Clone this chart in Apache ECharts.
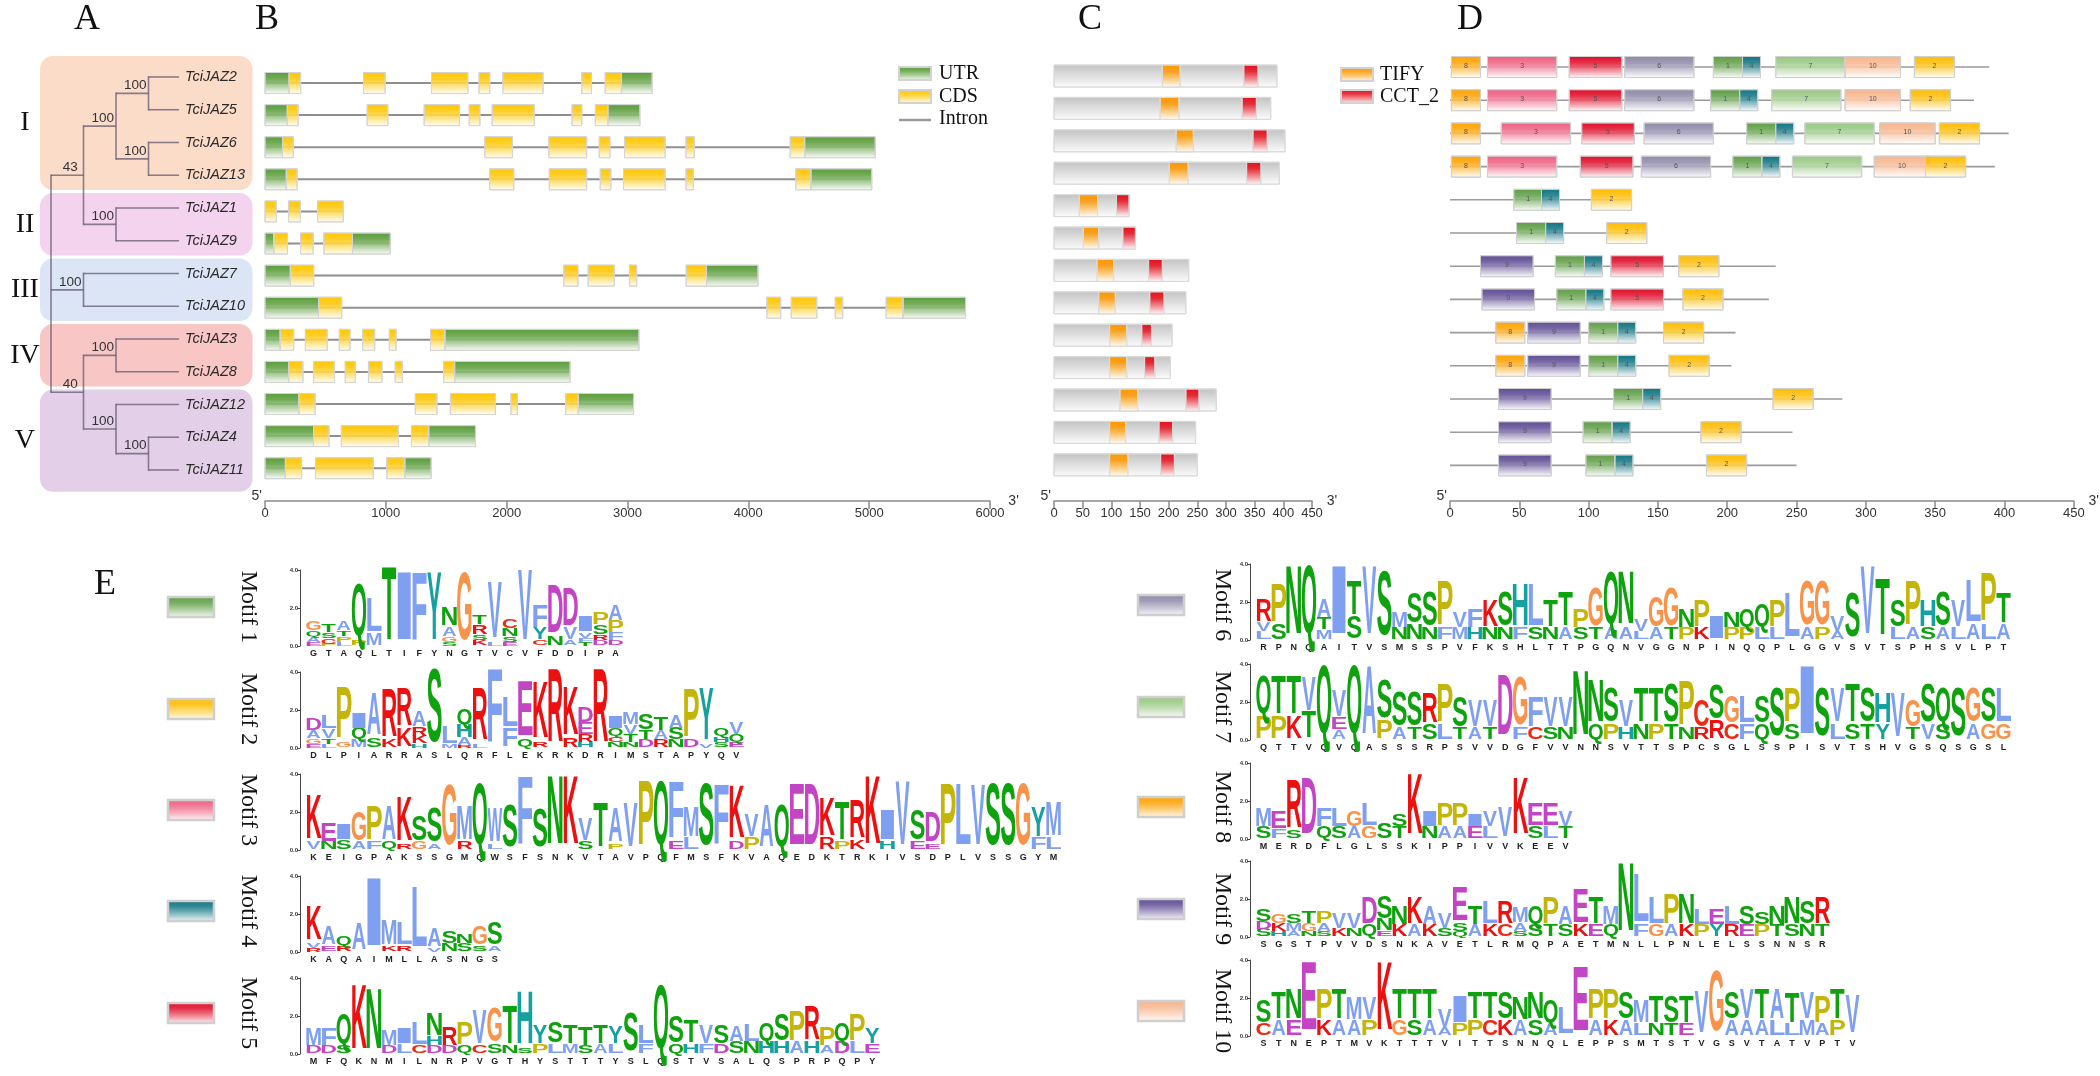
<!DOCTYPE html>
<html><head><meta charset="utf-8">
<script src="https://cdn.jsdelivr.net/npm/echarts@6/dist/echarts.min.js"></script>
<style>html,body{margin:0;padding:0;background:#fff}#c{width:2100px;height:1076px}</style>
</head><body><div id="c"></div>
<script>
// ---------------- DATA ----------------
const genes = ['TciJAZ2','TciJAZ5','TciJAZ6','TciJAZ13','TciJAZ1','TciJAZ9','TciJAZ7','TciJAZ10','TciJAZ3','TciJAZ8','TciJAZ12','TciJAZ4','TciJAZ11'];
// A: tree [id, parent, depth, bootstrap]
const treeNodes = [['root',null,0,''],['n43','root',1,'43'],['nI','n43',2,'100'],['n25','nI',3,'100'],['n613','nI',3,'100'],
  ['nII','n43',2,'100'],['nIII','root',1,'100'],['n40','root',1,'40'],['nIV','n40',2,'100'],['nV','n40',2,'100'],['n411','nV',3,'100']];
const leafParent = ['n25','n25','n613','n613','nII','nII','nIII','nIII','nIV','nIV','nV','n411','n411'];
const leafDepth = 3.94;
const clades = ['I','II','III','IV','V'];
const cladeRows = [[0,3],[4,5],[6,7],[8,9],[10,12]];
const cladeColors = ['#fbdcc9','#f4d3ee','#dbe5f6','#f8c6c4','#e4cfe8'];
// B: gene structure [type U=UTR C=CDS, start bp, end bp]
const geneSegments = [
 [['U',0,200],['C',200,295],['C',815,995],['C',1378,1679],['C',1771,1860],['C',1968,2301],['C',2622,2702],['C',2815,2950],['U',2950,3204]],
 [['U',0,185],['C',185,274],['C',845,1017],['C',1317,1610],['C',1690,1779],['C',1880,2229],['C',2541,2622],['C',2734,2839],['U',2839,3103]],
 [['U',0,145],['C',145,234],['C',1819,2048],['C',2349,2662],['C',2766,2855],['C',2975,3312],['C',3484,3553],['C',4346,4467],['U',4467,5050]],
 [['U',0,177],['C',177,266],['C',1859,2059],['C',2353,2662],['C',2774,2863],['C',2967,3312],['C',3484,3545],['C',4393,4519],['U',4519,5022]],
 [['C',0,94],['C',194,294],['C',435,648]],
 [['U',0,74],['C',74,186],['C',294,399],['C',487,724],['U',724,1037]],
 [['U',0,210],['C',210,403],['C',2473,2590],['C',2674,2891],['C',3016,3076],['C',3485,3654],['U',3654,4080]],
 [['U',0,443],['C',443,635],['C',4153,4268],['C',4355,4567],['C',4719,4781],['C',5140,5281],['U',5281,5798]],
 [['U',0,126],['C',126,238],['C',334,515],['C',615,704],['C',808,908],['C',1029,1085],['C',1370,1490],['U',1490,3095]],
 [['U',0,197],['C',197,314],['C',402,575],['C',664,748],['C',856,969],['C',1077,1137],['C',1478,1570],['U',1570,2525]],
 [['U',0,281],['C',281,415],['C',1244,1423],['C',1534,1907],['C',2035,2089],['C',2488,2593],['U',2593,3050]],
 [['U',0,402],['C',402,530],['C',632,1104],['C',1212,1356],['U',1356,1742]],
 [['U',0,169],['C',169,303],['C',418,896],['C',1008,1158],['U',1158,1375]]
];
// C: protein length and domains (aa)
const protLen = [389,378,403,393,131,142,235,230,206,203,283,247,250];
const tifyDomain = [[189,220],[185,218],[213,243],[201,234],[44,76],[51,78],[75,104],[78,107],[97,127],[97,127],[115,146],[97,125],[97,129]];
const cctDomain = [[331,356],[328,353],[347,372],[336,361],[109,131],[120,142],[165,189],[167,192],[153,170],[158,176],[230,253],[183,207],[186,210]];
// D: motif layout [motif, start aa]
const motifLen = [21,29,50,13,38,50,50,21,38,40];
const motifLayout = [
 [[8,1],[3,27],[5,86],[6,126],[1,190],[4,211],[7,235],[10,285],[2,335]],
 [[8,1],[3,27],[5,86],[6,126],[1,188],[4,209],[7,232],[10,285],[2,332]],
 [[8,1],[3,37],[5,95],[6,140],[1,214],[4,235],[7,256],[10,310],[2,353]],
 [[8,1],[3,27],[5,94],[6,138],[1,204],[4,225],[7,247],[10,306],[2,343]],
 [[1,46],[4,66],[2,102]],
 [[1,48],[4,69],[2,113]],
 [[9,22],[1,76],[4,97],[5,116],[2,165]],
 [[9,23],[1,77],[4,98],[5,116],[2,168]],
 [[8,33],[9,56],[1,100],[4,121],[2,154]],
 [[8,33],[9,56],[1,100],[4,121],[2,158]],
 [[9,35],[1,118],[4,139],[2,233]],
 [[9,35],[1,96],[4,117],[2,181]],
 [[9,35],[1,98],[4,119],[2,185]]
];
const motifColors = ['#5f9e45','#ffbc00','#ee5f82','#0f7482','#e00c28','#8f89a8','#98c882','#ffa200','#5f4c94','#f7b48c'];
// E: sequence logos (letters top->bottom with heights in bits), consensus tick labels
const cons1 = 'GTAQLTIFYNGTVCVFDDIPA';
const logo1 = ['G.5Q.3A.3E.2','T.4S.3C.3P.1','A.5T.3P.3L.2','Q2.8P.3','L1.8M.6','T3.9','I3.6','F3.6','Y3.6','N1.0A.5G.3S.2','G3.6','T.5R.5S.3K.3','V3.0L.2','C.5N.4S.3E.2','V3.8','F1.2Y.6C.3','D2.6N.5','D2.0V.6A.3','I.8V.3F.2T.2','P.6S.5R.3D.3','A.8P.6F.4D.3'];
const cons2 = 'DLPIARRASLQRFLEKRKDRIMSTAPYQV';
const logo2 = ['D.6A.4G.3E.2','L.7V.5T.3L.2','P2.7G.3','I.8Q.6M.4','A2.2S.5','R2.6K.4','R2.0K1.0','A.8R.5K.4H.2','S3.9','L.9M.2','Q.8H.7A.4R.1','R2.8L.2','F3.9','L1.6F1.0','E2.9Q.4','K3.0R.3','R3.9','K2.6R.5','D.8E.6R.4H.3','R3.9','I.6Q.4C.3N.3','M.6V.5T.4N.3','S.8T.5D.4','T.7A.5R.4','A.7S.6N.4','P2.6D.4','Y2.8V.2','Q.4H.3S.3','V.6Q.4E.3'];
const cons3 = 'KEIGPAKSSGMQWSFSNKVTAVPQFMSFKVAQEDKTRKIVSDPLVSSGYM';
const logo3 = ['K2.4V.4','E1.0N.4','I.8S.5','G1.5A.4','P1.8F.4','A1.8Q.4','K2.4R.3','S1.3G.4','S1.8A.3','G3.2','M1.8R.4','Q3.3','W1.8L.3','S2.2','F3.6','S2.0','N3.6','K3.6','V1.2S.4','T2.4','A1.8P.3','V2.4','P3.4','Q3.4','F3.0E.4','M1.6L.6','S3.3','F3.2','K2.8D.4','V1.2P.6','A2.2','Q2.2','E3.3','D3.3','K2.0R.6','T2.0P.4','R2.0K.5','K3.6','I1.6H.4','V3.4','S1.6E.4','D1.6E.3','P3.3','L3.3','V3.2','S3.3','S3.3','G3.3','Y1.6F.6','M1.8L.6'];
const cons4 = 'KAQAIMLLASNGS';
const logo4 = ['K1.8V.3R.2','A1.0E.3','Q.5R.3','A1.4','I3.6','M1.3K.3','L1.2R.3','L3.2','A1.0V.2','S.6N.4','N.5S.4','G1.0S.3','S1.2A.3'];
const cons5 = 'MFQKNMILNRPVGTHYSTTTYSLQSTVSALQSPRPQPY';
const logo5 = ['M.9D.4','F.9D.4','Q1.6S.4','K3.4','N3.2','M.8D.4','I.8L.5','L1.2C.4','N1.2H.5D.4','R1.0D.4','P1.2Q.4','V1.8C.4','G1.8S.5','T2.0N.4','H2.8S.3','Y1.0P.5','S1.1L.5','T1.0M.5','T1.0S.4','T1.0A.5','Y.9L.5','S2.0','L1.0F.5','Q3.4','S1.4Q.5','T1.2H.5','V1.0F.5','S1.0D.5','A.8S.6','L.9N.6','Q1.0H.6','S1.4H.6','P1.6A.6','R1.8H.6','P1.0A.4','Q1.0D.6','P1.4L.6','Y.8E.5'];
const cons6 = 'RPNQAITVSMSSPVFKSHLTTPGQNVGGNPINQQPLGGVSVTSPHSVLPT';
const logo6 = ['R1.2V.5L.4','P2.0S.8','N3.6','Q3.6','A1.0T.6M.5','I3.6','T1.8S1.2','V3.6','S3.4','M.8N.6','S1.6N.8','S1.8N.6','P2.4F.6','V.8M.6','F1.0H.6','K1.4N.6','S1.8N.6','H2.2F.6','L2.2S.6','T1.4N.6','T1.8A.6','P1.0S.6','G2.0T.6','Q2.8A.6','N2.8A.6','V.6L.4','G1.6A.6','G2.0T.6','N1.0P.6','P1.4K.6','I1.2','N.8P.6','Q1.0P.6','Q1.2L.6','P1.4L.6','L2.4','G2.4A.6','G2.4P.6','V.8A.4','S2.4','V3.6','T3.0','S1.4L.6','P2.4A.6','H1.4S.6','S1.8A.6','V1.4L.6','L2.2A.8','P2.6L.8','T1.6A.8'];
const cons7 = 'QTTVQVQASSSRPSVVDGFVVNNSVTTSPCSGLSSPISVTSHVGSQSGSL';
const logo7 = ['Q2.0P1.2','T2.0P1.2','T2.0K1.2','V1.8T1.4','Q3.6','V1.4E.6A.5','Q3.6','A3.6','S2.0P1.0','S1.8A.6','S1.8T.6','R1.6S.8','P2.0L.8','S1.6T.6','V1.4A.6','V1.4T.6','D3.2','G2.6F.6','F1.6C.6','V1.6S.6','V1.6N.6','N3.4','N2.2Q.8','S1.8P.8','V1.4H.6','T1.8N.8','T1.8P.8','S2.0T.8','P2.4N.6','C1.4R.6','S1.8R1.0','G1.4C.8','L1.4F.8','S1.4Q.8','S2.6','P1.8S.8','I3.6','S2.6','V1.8L.8','T2.0S.8','S1.8T.8','H1.6Y.8','V2.4','G1.4T.6','S2.0V.8','Q1.8S.8','S2.6','G1.8A.8','S1.8G.8','L1.8G.8'];
const cons8 = 'MERDFLGLSSKIPPIVVKEEV';
const logo8 = ['M1.0S.6','E.9F.5','R2.6S.4','D3.0','F1.0Q.6','L1.0S.6','G.8A.6','L1.2G.6','S.8','S.6T.6','K3.2','I.8N.6','P1.2A.6','P1.2A.6','I.6E.6','V.8L.6','V1.6','K3.0','E1.2S.6','E1.2L.6','V.8T.6'];
const cons9 = 'SGSTPVVDSNKAVETLRMQPAETMNLLPNLELSSNNSR';
const logo9 = ['S.6D.4S.4','G.5K.4H.3','S.5M.4A.3','T.6G.4N.3','P.6A.4S.3','V.8K.4','V.8N.4','D1.4Q.6','S1.2N.6E.3','N1.0K.6','K1.4A.6','A1.0K.6','V.8S.4','E1.8S.4Q.3','T1.0A.6','L1.2K.6','R1.2C.6','M.8A.4S.3','Q1.0S.6','P1.4T.6','A1.0S.6','E1.8K.6','T1.4E.6','M1.0Q.6','N3.6','L2.6F.6','L1.4G.6','P1.6A.6','N1.6K.6','L.8P.6','E.8Y.6','L1.0R.6','S1.0E.6','S.6P.6','N1.0T.6','N1.4S.6','S1.2N.6','R1.4T.6'];
const cons10 = 'STNEPTMVKTTTVITTSNNQLEPPSMTSTVGSVTATVPTV';
const logo10 = ['S1.2C.6','T1.4A.8','N1.6E.8','E3.6','P1.6K.8','T1.6A.8','M1.2A.8','V1.2P.8','K3.6','T1.6G.8','T1.6S.8','T1.6A.8','V1.0A.4','I1.4P.6','T1.4P.8','T1.4C.8','S1.4K.8','N1.2A.8','N1.4S.8','Q1.2A.6','L1.4','E3.4','P1.6A.8','P1.6K.8','S1.4A.8','M1.2L.6','T1.4N.6','S1.4T.6','T1.4E.6','V2.2','G3.2','S1.4A.8','V1.6A.8','T1.6A.8','A1.6L.8','T1.6L.6','V1.4M.8','P1.4A.6','T1.6P.8','V2.0'];
const logos = [logo1,logo2,logo3,logo4,logo5,logo6,logo7,logo8,logo9,logo10];
const consensus = [cons1,cons2,cons3,cons4,cons5,cons6,cons7,cons8,cons9,cons10];
const motifNames = ['Motif 1','Motif 2','Motif 3','Motif 4','Motif 5','Motif 6','Motif 7','Motif 8','Motif 9','Motif 10'];

// ---------------- STYLE HELPERS ----------------
const SANS = 'Liberation Sans', SERIF = 'Liberation Serif';
const aaColor = {A:'#7f9ff0',C:'#ee2a14',F:'#7f9ff0',I:'#7f9ff0',L:'#7f9ff0',M:'#7f9ff0',V:'#7f9ff0',W:'#7f9ff0',
  N:'#0fa20f',Q:'#0fa20f',S:'#0fa20f',T:'#0fa20f',D:'#c445c4',E:'#c445c4',K:'#ec1010',R:'#ec1010',
  G:'#f7934a',P:'#c4b50a',H:'#16a0a0',Y:'#16a0a0'};
const aaInk = {A:.72,C:.64,D:.62,E:.56,F:.52,G:.68,H:.58,I:.16,K:.64,L:.52,M:.70,N:.58,P:.56,Q:.70,R:.64,S:.60,T:.60,V:.68,W:.92,Y:.66};
function rgba(hex,a){const n=parseInt(hex.slice(1),16);return `rgba(${n>>16},${(n>>8)&255},${n&255},${a})`;}
function vgrad(c){return {type:'linear',x:0,y:0,x2:0,y2:1,colorStops:[{offset:0,color:c},{offset:0.3,color:rgba(c,0.85)},{offset:1,color:'rgba(255,255,255,1)'}]};}
const utrFill = vgrad('#5a9c3a'), cdsFill = vgrad('#ffc600');
const protFill = {type:'linear',x:0,y:0,x2:0,y2:1,colorStops:[{offset:0,color:'#c2c2c2'},{offset:1,color:'#fcfcfc'}]};
const tifyFill = vgrad('#ff9800'), cctFill = vgrad('#e5101c');
const motifFill = motifColors.map(vgrad);

// ---------------- TREE LAYOUT ----------------
const nodeById = {};
treeNodes.forEach(n => nodeById[n[0]] = {id:n[0], parent:n[1], depth:n[2], sup:n[3], kids:[]});
treeNodes.forEach(n => { if (n[1]) nodeById[n[1]].kids.push({node:n[0]}); });
leafParent.forEach((p,i) => nodeById[p].kids.push({leaf:i}));
function nodeY(id){const n=nodeById[id];const ys=n.kids.map(k=>k.node?nodeY(k.node):k.leaf);n.yMin=Math.min(...ys);n.yMax=Math.max(...ys);n.y=(n.yMin+n.yMax)/2;return n.y;}
nodeY('root');
const treeItems = [];
treeNodes.forEach(n => { const o=nodeById[n[0]]; treeItems.push({pd:o.parent?nodeById[o.parent].depth:null, d:o.depth, y:o.y, ymin:o.yMin, ymax:o.yMax, sup:o.sup}); });
leafParent.forEach((p,i) => treeItems.push({pd:nodeById[p].depth, d:leafDepth, y:i, label:genes[i]}));

// ---------------- GRIDS / AXES ----------------
const grids=[], xAxes=[], yAxes=[], series=[];
function addGrid(g,xa,ya){grids.push(g);const i=grids.length-1;xAxes.push(Object.assign({gridIndex:i},xa));yAxes.push(Object.assign({gridIndex:i},ya));return i;}
const rowAxis = {type:'value',min:-0.5,max:12.5,inverse:true,show:false};
const posAxis = (max, interval, offset) => ({type:'value',min:0,max:max,interval:interval,position:'bottom',offset:offset,
  axisLine:{show:true,onZero:false,lineStyle:{color:'#8a8a8a',width:1.5}},
  axisTick:{show:true,length:8,lineStyle:{color:'#8a8a8a',width:1.5}},
  axisLabel:{fontSize:13,color:'#333',fontFamily:SANS,margin:6,formatter:v=>String(v)},splitLine:{show:false},
  name:"3'",nameLocation:'end',nameGap:3,nameTextStyle:{fontSize:14,color:'#333',fontFamily:SANS,verticalAlign:'middle',padding:[0,0,10,0]}});
const AXIS_Y = 501;
const gTree = addGrid({left:51,top:60.6,width:130,height:425.75},{type:'value',min:0,max:4,show:false},rowAxis);
const gB = addGrid({left:265,top:66.95,width:725,height:417.3},posAxis(6000,1000,AXIS_Y-(66.95+417.3)),rowAxis);
const gC = addGrid({left:1054,top:59.8,width:258,height:421.2},posAxis(450,50,AXIS_Y-(59.8+421.2)),rowAxis);
const gD = addGrid({left:1450,top:50.4,width:635,height:431.6},posAxis(450,50,AXIS_Y-(50.4+431.6)),rowAxis);
const logoBaseL = [646,748,850,952,1054], logoBaseR = [640,740,839,937,1036];
const POS_W = 15.1, LOGO_H = 76;
const logoGrid = logos.map((lg,k) => {
  const left = k<5 ? 306 : 1256; const base = k<5 ? logoBaseL[k] : logoBaseR[k-5];
  return addGrid({left:left,top:base-LOGO_H,width:lg.length*POS_W,height:LOGO_H},
    {type:'category',data:consensus[k].split(''),boundaryGap:true,axisLine:{show:false},axisTick:{show:false},
     axisLabel:{interval:0,fontSize:9,fontWeight:'bold',color:'#222',fontFamily:SANS,margin:3}},
    {type:'value',min:0,max:4,interval:2,offset:6,axisLine:{show:true,lineStyle:{color:'#444',width:1}},
     axisTick:{show:true,length:3,lineStyle:{color:'#444'}},splitLine:{show:false},
     axisLabel:{fontSize:6,fontWeight:'bold',color:'#333',margin:2,formatter:v=>v.toFixed(1)}});
});

// ---------------- SERIES ----------------
// A: clade boxes
series.push({type:'custom',xAxisIndex:gTree,yAxisIndex:gTree,silent:true,z:1,
  data:cladeRows.map(r=>[0,r[0],r[1]]),
  renderItem:(p,api)=>{const i=p.dataIndex;const a=api.coord([-0.34,api.value(1)-0.5]),b=api.coord([6.2,api.value(2)+0.5]);
    const y0=a[1]+1.5-(i===0?6:0), y1=b[1]-1.5+(i===cladeRows.length-1?7:0);
    return {type:'group',children:[
      {type:'rect',shape:{x:a[0],y:y0,width:b[0]-a[0],height:y1-y0,r:13},style:{fill:cladeColors[i]}},
      {type:'text',x:a[0]-15,y:(y0+y1)/2,style:{text:clades[i],fontSize:28,fontFamily:SERIF,fill:'#111',align:'center',verticalAlign:'middle'}}]};}});
// A: tree branches
series.push({type:'custom',xAxisIndex:gTree,yAxisIndex:gTree,silent:true,z:2,
  data:treeItems.map(t=>[t.d,t.y]),
  renderItem:(p,api)=>{const t=treeItems[p.dataIndex];const ch=[];const ls={stroke:'rgba(95,85,110,0.72)',lineWidth:1.6};
    if(t.pd!==null){const a=api.coord([t.pd,t.y]),b=api.coord([t.d,t.y]);
      ch.push({type:'line',shape:{x1:a[0],y1:a[1],x2:b[0],y2:b[1]},style:ls});
      if(t.sup)ch.push({type:'text',x:(a[0]+b[0])/2+3,y:a[1]-1,style:{text:t.sup,fontSize:13.5,fontFamily:SANS,fill:'#333',align:'center',verticalAlign:'bottom'}});}
    if(t.ymin!==undefined){const a=api.coord([t.d,t.ymin]),b=api.coord([t.d,t.ymax]);
      ch.push({type:'line',shape:{x1:a[0],y1:a[1]-0.8,x2:b[0],y2:b[1]+0.8},style:ls});}
    if(t.label){const b=api.coord([t.d,t.y]);
      ch.push({type:'text',x:b[0]+6,y:b[1],style:{text:t.label,fontSize:14.5,fontStyle:'italic',fontFamily:SANS,fill:'#2a2a2a',align:'left',verticalAlign:'middle'}});}
    return {type:'group',children:ch};}});
// B: introns
series.push({type:'custom',xAxisIndex:gB,yAxisIndex:gB,silent:true,
  data:geneSegments.map((g,i)=>[0,i,g[g.length-1][2]]),
  renderItem:(p,api)=>{const a=api.coord([api.value(0),api.value(1)]),b=api.coord([api.value(2),api.value(1)]);
    return {type:'line',shape:{x1:a[0],y1:a[1],x2:b[0],y2:b[1]},style:{stroke:'#8f8f8f',lineWidth:2}};}});
// B: exons
const exonData=[]; geneSegments.forEach((g,i)=>g.forEach(s=>exonData.push([s[1],i,s[2],s[0]==='C'?1:0])));
series.push({type:'custom',xAxisIndex:gB,yAxisIndex:gB,silent:true,data:exonData,
  renderItem:(p,api)=>{const a=api.coord([api.value(0),api.value(1)]),b=api.coord([api.value(2),api.value(1)]);const h=21;
    return {type:'rect',shape:{x:a[0],y:a[1]-h/2,width:b[0]-a[0],height:h},style:{fill:api.value(3)?cdsFill:utrFill,stroke:'#d4d4d4',lineWidth:1}};}});
// C: proteins
series.push({type:'custom',xAxisIndex:gC,yAxisIndex:gC,silent:true,data:protLen.map((l,i)=>[0,i,l]),
  renderItem:(p,api)=>{const a=api.coord([0,api.value(1)]),b=api.coord([api.value(2),api.value(1)]);const h=22;
    return {type:'rect',shape:{x:a[0],y:a[1]-h/2,width:b[0]-a[0],height:h},style:{fill:protFill,stroke:'#dadada',lineWidth:1}};}});
const domData=[]; tifyDomain.forEach((d,i)=>domData.push([d[0],i,d[1],0])); cctDomain.forEach((d,i)=>domData.push([d[0],i,d[1],1]));
series.push({type:'custom',xAxisIndex:gC,yAxisIndex:gC,silent:true,data:domData,
  renderItem:(p,api)=>{const a=api.coord([api.value(0),api.value(1)]),b=api.coord([api.value(2),api.value(1)]);const h=22;
    return {type:'rect',shape:{x:a[0],y:a[1]-h/2,width:b[0]-a[0],height:h},style:{fill:api.value(3)?cctFill:tifyFill,stroke:'#dcdcdc',lineWidth:1}};}});
// D: motif lines and boxes
series.push({type:'custom',xAxisIndex:gD,yAxisIndex:gD,silent:true,data:protLen.map((l,i)=>[0,i,l]),
  renderItem:(p,api)=>{const a=api.coord([0,api.value(1)]),b=api.coord([api.value(2),api.value(1)]);
    return {type:'line',shape:{x1:a[0],y1:a[1],x2:b[0],y2:b[1]},style:{stroke:'#9a9a9a',lineWidth:1.6}};}});
const motData=[]; motifLayout.forEach((row,i)=>row.forEach(m=>motData.push([m[1],i,m[1]+motifLen[m[0]-1],m[0]])));
series.push({type:'custom',xAxisIndex:gD,yAxisIndex:gD,silent:true,data:motData,
  renderItem:(p,api)=>{const m=api.value(3);const a=api.coord([api.value(0),api.value(1)]),b=api.coord([api.value(2),api.value(1)]);const h=21;
    return {type:'group',children:[
      {type:'rect',shape:{x:a[0],y:a[1]-h/2,width:b[0]-a[0],height:h},style:{fill:motifFill[m-1],stroke:'#d0d0d0',lineWidth:1}},
      {type:'text',x:(a[0]+b[0])/2,y:a[1]-1,style:{text:String(m),fontSize:7,fontFamily:SANS,fill:'#555',align:'center',verticalAlign:'middle'}}]};}});
// E: logos
function parseStack(tok){return [...tok.matchAll(/([A-Z])([\d.]+)/g)].map(m=>[m[1],parseFloat(m[2])]);}
logos.forEach((lg,k)=>{
  series.push({type:'custom',xAxisIndex:logoGrid[k],yAxisIndex:logoGrid[k],silent:true,data:lg.map((t,i)=>[i,0]),
    renderItem:(p,api)=>{const i=p.dataIndex;const parts=parseStack(lg[i]);const w=api.size([1,0])[0];const cx=api.coord([i,0])[0];
      const ch=[];let acc=0;const S=100;
      for(let j=parts.length-1;j>=0;j--){const L=parts[j][0],h=parts[j][1];
        const yb=api.coord([i,acc])[1],yt=api.coord([i,acc+h])[1];acc+=h;const ph=yb-yt;if(ph<0.6)continue;
        ch.push({type:'text',x:cx,y:(yb+yt)/2+0.012*ph/0.716,scaleX:(w*0.95)/(aaInk[L]*S),scaleY:ph/(0.716*S),
          style:{text:L,fontSize:S,fontWeight:'bold',fontFamily:SANS,fill:aaColor[L],align:'center',verticalAlign:'middle'}});}
      return {type:'group',children:ch};}});
});

// ---------------- GRAPHIC (panel letters, legends) ----------------
const graphic=[];
[['A',87,20],['B',267,20],['C',1090,20],['D',1470,20],['E',105,585]].forEach(([t,x,y])=>graphic.push({type:'text',x:x,y:y,style:{text:t,fontSize:36,fontFamily:SERIF,fill:'#111',align:'center',verticalAlign:'middle'}}));
function legBox(x,y,fill){return {type:'rect',shape:{x:x,y:y-7,width:32,height:13},style:{fill:fill,stroke:'#d2d2d2',lineWidth:2}};}
function legText(x,y,t){return {type:'text',x:x,y:y,style:{text:t,fontSize:20,fontFamily:SERIF,fill:'#111',align:'left',verticalAlign:'middle'}};}
graphic.push(legBox(899,74,utrFill),legText(939,74,'UTR'),legBox(899,97,cdsFill),legText(939,97,'CDS'),
  {type:'line',shape:{x1:899,y1:120,x2:931,y2:120},style:{stroke:'#999',lineWidth:2.5}},legText(939,119,'Intron'),
  legBox(1341,75,tifyFill),legText(1380,75,'TIFY'),legBox(1341,97,cctFill),legText(1380,97,'CCT_2'));
const legYL=[607,709,810,911,1013], legYR=[605,707,807,909,1011];
motifNames.forEach((nm,k)=>{const y=k<5?legYL[k]:legYR[k-5];const bx=k<5?168:1138;const tx=k<5?248:1222;
  graphic.push({type:'rect',shape:{x:bx,y:y-10,width:46,height:20},style:{fill:motifFill[k],stroke:'#cfcfcf',lineWidth:2.5}});
  graphic.push({type:'text',x:tx,y:y,rotation:-Math.PI/2,style:{text:nm,fontSize:24,fontFamily:SERIF,fill:'#111',align:'center',verticalAlign:'middle'}});});

const chart = echarts.init(document.getElementById('c'),null,{renderer:'canvas',width:2100,height:1076});
chart.setOption({animation:false,backgroundColor:'#fff',grid:grids,xAxis:xAxes,yAxis:yAxes,series:series,graphic:graphic});
// 5' marks at the start of each position axis (located through the axis scale)
const five=[];
[gB,gC,gD].forEach(gi=>{const p=chart.convertToPixel({gridIndex:gi},[0,0]);
  five.push({type:'text',x:p[0]-3,y:AXIS_Y-5,style:{text:"5'",fontSize:14,fontFamily:SANS,fill:'#333',align:'right',verticalAlign:'middle'}});});
chart.setOption({graphic:graphic.concat(five)});
</script></body></html>
